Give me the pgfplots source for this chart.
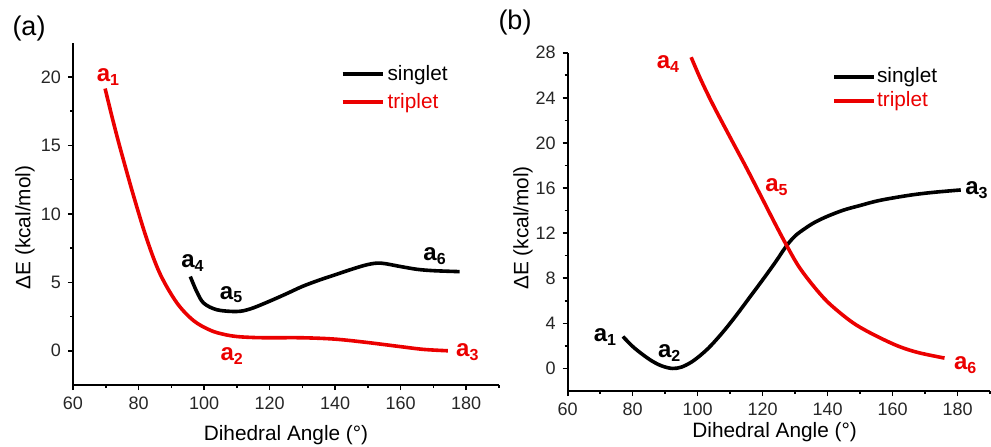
\documentclass[border=0pt]{standalone}
\usepackage{fontspec}
\setmainfont{Liberation Sans}
\usepackage{pgfplots}
\pgfplotsset{compat=1.18}
\definecolor{myred}{RGB}{235,0,0}
\pgfplotsset{
 mystyle/.style={
  scale only axis,
  axis x line*=bottom, axis y line*=left,
  axis line style={line width=0.8pt,-},
  tick align=outside,
  major tick length=2.5pt, minor tick length=1.5pt,
  tick style={line width=0.8pt, black},
  minor tick num=1,
  xmin=60, xmax=190, xtick={60,80,...,180},
  extra x ticks={190}, extra x tick labels={}, extra x tick style={major tick length=1.5pt},
  /pgf/number format/assume math mode=true,
  tick label style={font=\fontsize{9}{10}\selectfont, text=black!85},
  label style={font=\fontsize{10.4}{12}\selectfont},
  legend cell align=left,
  legend image code/.code={\draw[##1, line width=2pt] (0pt,0pt) -- (20pt,0pt);},
  legend style={draw=none, fill=none, inner sep=0pt, font=\fontsize{10.4}{12}\selectfont, row sep=2pt, nodes={inner sep=1.5pt}},
  every axis plot/.append style={line width=1.8pt, smooth, tension=0.55},
 },
}
\tikzset{lab/.style={font=\bfseries\fontsize{12}{13}\selectfont}}
\begin{document}
\begin{tikzpicture}
\useasboundingbox (0,0) rectangle (495.5pt,223pt);
\node[font=\fontsize{13.5}{15}\selectfont] at (14.5pt,208.5pt) {(a)};
\node[font=\fontsize{13.5}{15}\selectfont] at (257.5pt,211.5pt) {(b)};
% ---------------- (a)
\begin{axis}[mystyle,
  at={(36.5pt,30.5pt)}, anchor=south west,
  width=213pt, height=171.15pt,
  ymin=-2.5, ymax=22.5, ytick={0,5,...,20},
  xlabel={Dihedral Angle (°)}, ylabel={ΔE (kcal/mol)},
  xlabel style={at={(axis description cs:0.5,0)}, anchor=center, yshift=-25pt},
  ylabel style={at={(axis description cs:-0.1127,0.46)}, anchor=center},
  legend style={at={(0.627,0.945)}, anchor=north west},
]
\addplot[black] coordinates {(95.8,5.42) (97.8,4.3) (99.9,3.48) (104,2.99) (110,2.87) (114,3.05) (119.3,3.55) (125,4.15) (130,4.7) (135,5.15) (140,5.55) (145,5.95) (150,6.3) (154,6.4) (160,6.15) (165,5.95) (170,5.85) (178,5.78)};
\addlegendentry{singlet}
\addplot[myred] coordinates {(69.8,19.15) (72,17.0) (74.4,14.8) (78.5,11.3) (82.6,8.1) (86.6,5.6) (91.7,3.5) (96.8,2.2) (101.9,1.5) (106,1.2) (110,1.04) (115,0.97) (120,0.95) (130,0.95) (140,0.85) (150,0.6) (160,0.3) (167,0.1) (174.4,0)};
\addlegendentry{\textcolor{myred}{triplet}}
\node[lab, myred] at (axis cs:70.8,20.0) {a\textsubscript{1}};
\node[lab, myred] at (axis cs:108.6,-0.4) {a\textsubscript{2}};
\node[lab, myred] at (axis cs:180.5,-0.1) {a\textsubscript{3}};
\node[lab] at (axis cs:96.6,6.4) {a\textsubscript{4}};
\node[lab] at (axis cs:108.4,4.1) {a\textsubscript{5}};
\node[lab] at (axis cs:170.5,6.9) {a\textsubscript{6}};
\end{axis}
% ---------------- (b)
\begin{axis}[mystyle,
  at={(283.85pt,27.5pt)}, anchor=south west,
  width=211.15pt, height=169.15pt,
  ymin=-2, ymax=28, ytick={0,4,...,28},
  xlabel={Dihedral Angle (°)}, ylabel={ΔE (kcal/mol)},
  xlabel style={at={(axis description cs:0.49,0)}, anchor=center, yshift=-20.5pt},
  ylabel style={at={(axis description cs:-0.1056,0.482)}, anchor=center},
  legend style={at={(0.625,0.96)}, anchor=north west, nodes={inner sep=0.5pt}},
]
\addplot[black] coordinates {(77,2.83) (80,1.95) (83,1.25) (86,0.65) (89,0.22) (92.2,0) (95,0.12) (98,0.55) (101,1.2) (104,2.0) (108,3.3) (112,4.75) (116,6.3) (120,7.85) (124,9.45) (127.3,10.85) (130,11.75) (133,12.4) (136,12.95) (140,13.5) (145,14.05) (150,14.45) (156,14.9) (165,15.35) (172,15.6) (181,15.83)};
\addlegendentry{singlet}
\addplot[myred] coordinates {(98,27.6) (101,25.6) (104.7,23.4) (110,20.5) (115,17.8) (120,15.0) (124,12.75) (127.3,10.96) (131,9.1) (135.4,7.4) (140,5.9) (145.7,4.5) (150,3.65) (155.9,2.75) (162,1.95) (168,1.4) (176,0.92)};
\addlegendentry{\textcolor{myred}{triplet}}
\node[lab, myred] at (axis cs:91.0,27.0) {a\textsubscript{4}};
\node[lab, myred] at (axis cs:124.4,16.1) {a\textsubscript{5}};
\node[lab, myred] at (axis cs:182.5,0.3) {a\textsubscript{6}};
\node[lab] at (axis cs:71.6,2.8) {a\textsubscript{1}};
\node[lab] at (axis cs:91.4,1.36) {a\textsubscript{2}};
\node[lab] at (axis cs:186,15.8) {a\textsubscript{3}};
\end{axis}
\end{tikzpicture}
\end{document}
